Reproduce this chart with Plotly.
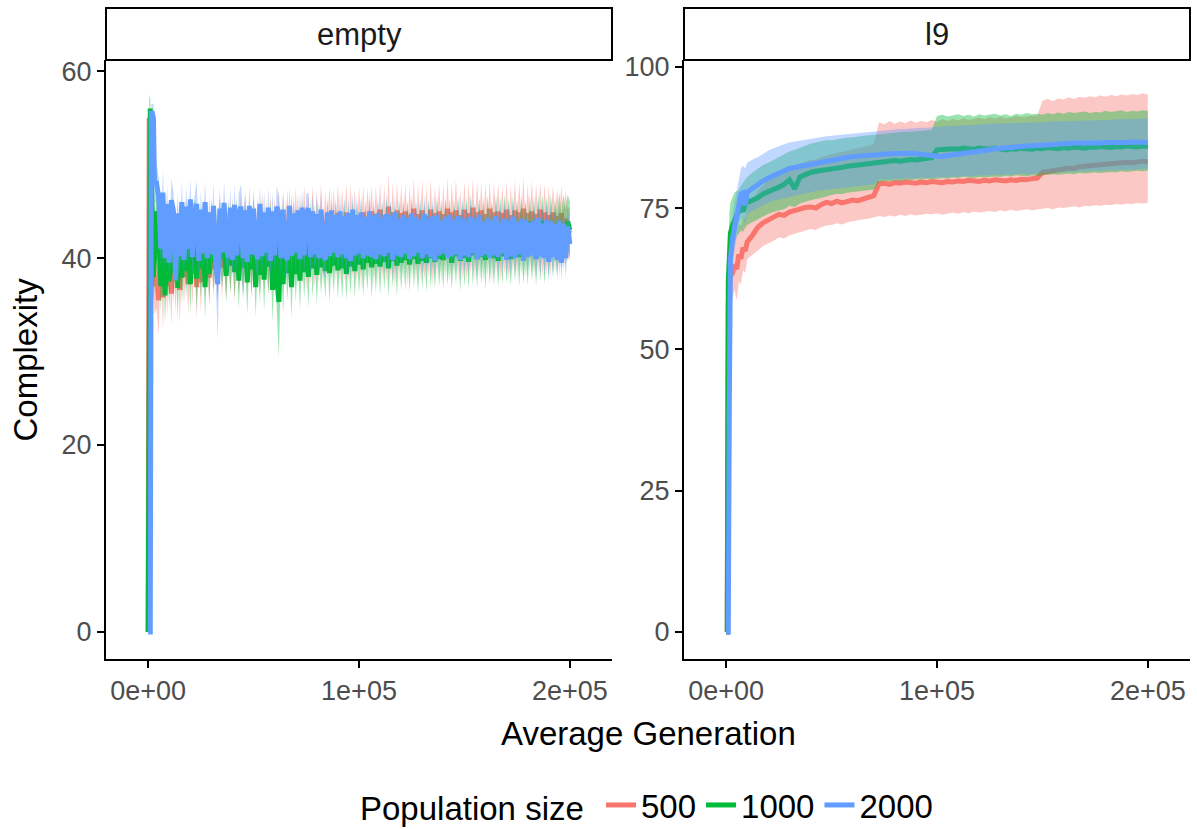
import plotly.graph_objects as go

# ---------------- data ----------------
series_names = ["500", "1000", "2000"]
series_colors = ["#F8766D", "#00BA38", "#619CFF"]
ribbon_colors = ["rgba(248,118,109,0.4)", "rgba(0,186,56,0.4)", "rgba(97,156,255,0.4)"]
panel_titles = ["empty", "l9"]

# panel "empty": generations (start of run, then every 1000)
empty_gen = [0, 500, 1000, 1500, 2000, 2500, 3000] + list(range(4000, 200001, 1000))

red_empty_mean = [0, 55.0, 48.0, 42.0, 38.0, 40.0, 37.0,
    38.0, 35.5, 43.0, 35.8, 42.5, 37.0,
    43.2, 36.2, 42.8, 37.5, 43.0, 36.6, 42.6, 38.0, 43.4, 37.2,
    42.9, 38.3, 43.1, 36.9, 42.7, 37.4, 43.5, 38.6, 42.8, 37.9,
    43.3, 38.8, 42.6, 38.2, 43.6, 39.0, 42.9, 38.5, 43.2, 39.3,
    43.7, 38.7, 43.0, 39.4, 43.5, 38.9, 43.8, 39.5, 42.9, 39.1,
    43.6, 39.6, 43.2, 39.0, 44.0, 39.8, 43.4, 39.3, 43.9, 39.7,
    43.5, 39.9, 44.2, 39.4, 43.7, 40.0, 44.1, 39.6, 43.8, 40.2,
    44.3, 39.8, 43.9, 40.1, 44.4, 39.7, 44.0, 40.3, 44.5, 39.9,
    44.2, 40.4, 44.6, 40.0, 44.1, 40.5, 44.7, 40.2, 44.3, 40.6,
    44.8, 40.1, 44.4, 40.7, 44.9, 40.3, 44.5, 40.8, 44.2, 40.4,
    44.6, 40.0, 44.9, 40.6, 44.3, 40.9, 45.0, 40.2, 44.7, 40.5,
    45.2, 40.8, 44.6, 40.3, 45.5, 40.7, 44.9, 40.1, 45.1, 40.6,
    44.8, 40.9, 45.0, 40.4, 44.6, 40.8, 45.3, 40.2, 44.7, 40.7,
    45.1, 40.5, 44.5, 40.9, 45.2, 40.3, 44.8, 41.0, 45.0, 40.6,
    44.7, 40.8, 45.3, 40.4, 44.9, 41.1, 45.1, 40.6, 44.6, 40.9,
    45.2, 40.7, 44.8, 41.2, 45.4, 40.5, 44.9, 41.0, 45.1, 40.8,
    44.7, 41.1, 45.3, 40.6, 44.9, 41.3, 45.0, 40.9, 44.8, 41.2,
    45.2, 40.7, 44.6, 41.4, 45.1, 40.9, 44.9, 41.2, 45.3, 40.8,
    44.8, 41.3, 45.0, 41.0, 44.7, 41.5, 45.2, 41.1, 44.9, 41.4,
    44.6, 41.2, 44.9, 41.6, 44.5, 41.3, 44.8, 41.8, 44.2, 42.4,
    43.0]
red_empty_sd = [0, 1.0, 2.0, 3.0, 3.0, 3.0, 3.0,
    3.4, 3.8, 3.2, 3.6, 3.0, 3.3,
    3.1, 3.5, 2.9, 3.3, 3.0, 3.6, 2.8, 3.2, 3.1, 3.4,
    2.9, 3.2, 3.0, 3.5, 2.8, 3.3, 3.1, 2.9, 3.4, 3.0,
    3.2, 2.9, 3.3, 3.0, 2.8, 3.4, 3.1, 3.0, 3.2, 2.9,
    3.0, 3.3, 2.9, 3.1, 3.4, 2.8, 3.2, 3.0, 3.3, 2.9,
    3.1, 3.0, 3.4, 2.9, 3.2, 3.1, 2.8, 3.3, 3.0, 3.2,
    2.9, 3.2, 3.0, 3.4, 3.1, 2.8, 3.3, 3.0, 3.2, 2.9,
    3.3, 3.0, 3.1, 2.9, 3.4, 3.2, 2.8, 3.1, 3.3, 3.0,
    3.0, 3.2, 3.4, 2.9, 3.1, 3.3, 3.0, 2.8, 3.2, 3.1,
    3.2, 2.9, 3.0, 3.3, 3.1, 2.8, 3.4, 3.0, 3.2, 2.9,
    3.1, 3.3, 2.9, 3.0, 3.2, 3.4, 2.8, 3.1, 3.0, 3.3,
    2.9, 3.1, 3.2, 3.0, 3.5, 2.9, 3.1, 3.3, 3.0, 3.2,
    3.0, 3.2, 2.9, 3.4, 3.1, 3.0, 3.3, 2.8, 3.2, 3.1,
    3.3, 2.9, 3.1, 3.0, 3.2, 3.4, 2.9, 3.1, 3.0, 3.2,
    3.1, 3.0, 3.3, 2.9, 3.2, 3.1, 3.4, 3.0, 2.8, 3.2,
    3.0, 3.3, 3.1, 2.9, 3.2, 3.0, 3.4, 3.1, 2.9, 3.3,
    3.2, 3.0, 2.9, 3.3, 3.1, 3.2, 3.0, 3.4, 2.9, 3.1,
    3.0, 3.2, 3.1, 2.9, 3.3, 3.0, 3.2, 3.1, 3.4, 2.9,
    3.1, 2.9, 3.3, 3.0, 3.2, 3.1, 2.9, 3.3, 3.0, 3.2,
    3.0, 3.1, 2.9, 3.2, 3.0, 3.3, 2.9, 3.1, 3.0, 2.8,
    2.5]

green_empty_mean = [0, 56.0, 56.0, 50.0, 42.0, 38.0, 40.0,
    45.0, 43.5, 37.0, 44.0, 36.0, 42.5,
    37.5, 43.2, 38.4, 42.6, 36.8, 43.5, 37.9, 42.8, 38.6, 43.0,
    37.2, 42.7, 43.3, 37.8, 42.5, 38.9, 43.1, 36.9, 42.9, 38.3,
    43.4, 39.6, 42.6, 38.7, 43.2, 39.9, 42.4, 38.1, 43.0, 39.2,
    42.8, 38.5, 43.5, 37.6, 42.7, 39.0, 43.1, 37.4, 42.9, 38.8,
    43.3, 36.9, 42.5, 38.2, 43.0, 37.7, 42.8, 39.1, 43.2, 36.6,
    42.6, 38.0, 35.3, 42.9, 37.2, 43.1, 38.4, 42.7, 36.9, 43.0,
    38.3, 42.8, 37.6, 43.2, 38.5, 42.6, 38.0, 43.4, 38.9, 42.7,
    38.2, 43.0, 39.0, 42.5, 38.6, 43.3, 38.4, 42.9, 39.2, 43.1,
    38.7, 42.8, 38.9, 43.4, 38.3, 42.6, 39.1, 43.2, 38.6, 42.9,
    39.3, 43.1, 38.8, 42.7, 39.5, 43.4, 39.0, 42.8, 39.4, 43.2,
    39.1, 42.9, 39.6, 43.3, 38.9, 43.0, 39.7, 42.7, 39.2, 43.5,
    39.5, 42.8, 39.8, 43.2, 39.3, 43.6, 39.9, 42.9, 39.4, 43.3,
    39.7, 43.0, 39.5, 43.4, 40.0, 42.8, 39.6, 43.5, 39.9, 43.1,
    39.8, 43.6, 40.1, 43.0, 39.5, 43.3, 40.2, 43.7, 39.7, 43.2,
    40.0, 43.4, 39.6, 43.8, 40.3, 43.1, 39.9, 43.5, 40.1, 43.3,
    39.8, 43.7, 40.4, 43.2, 40.0, 43.6, 39.7, 43.4, 40.2, 43.9,
    40.3, 43.3, 39.9, 43.7, 40.5, 43.5, 40.1, 43.8, 40.4, 43.2,
    40.2, 43.9, 40.6, 43.4, 40.0, 43.7, 40.5, 44.0, 40.3, 43.6,
    40.7, 43.8, 41.0, 43.5, 41.3, 44.0, 41.8, 43.7, 42.2, 43.9,
    43.0]
green_empty_sd = [0, 1.5, 1.0, 2.0, 3.0, 3.0, 3.0,
    3.0, 3.3, 2.8, 3.2, 2.9, 3.1,
    3.0, 2.8, 3.2, 2.9, 3.3, 3.0, 2.8, 3.1, 2.9, 3.2,
    3.1, 2.9, 3.0, 3.3, 2.8, 3.1, 3.0, 3.4, 2.9, 3.0,
    2.8, 3.1, 3.0, 2.9, 3.2, 3.0, 3.3, 2.9, 3.1, 3.0,
    3.2, 2.9, 3.0, 3.1, 2.8, 3.3, 3.0, 3.5, 2.9, 3.1,
    3.0, 3.2, 2.9, 3.1, 3.0, 3.3, 2.8, 3.0, 3.1, 3.4,
    2.9, 3.1, 6.0, 3.0, 3.2, 2.9, 3.0, 3.1, 3.3, 2.8,
    3.0, 2.9, 3.2, 3.1, 2.8, 3.0, 3.3, 2.9, 3.1, 3.0,
    3.2, 3.0, 2.9, 3.1, 3.0, 2.8, 3.2, 3.1, 2.9, 3.0,
    3.1, 2.9, 3.3, 3.0, 2.8, 3.1, 3.0, 3.2, 2.9, 3.1,
    3.0, 3.2, 2.9, 3.1, 3.0, 2.8, 3.3, 3.0, 3.1, 2.9,
    3.1, 3.0, 2.9, 3.2, 3.0, 3.1, 2.8, 3.0, 3.3, 2.9,
    3.0, 3.1, 3.2, 2.9, 3.0, 2.8, 3.1, 3.0, 3.2, 3.1,
    2.9, 3.0, 3.1, 2.8, 3.2, 3.0, 2.9, 3.1, 3.0, 3.2,
    3.1, 2.9, 3.0, 3.2, 2.8, 3.1, 3.0, 2.9, 3.3, 3.0,
    3.0, 3.1, 2.9, 3.0, 3.2, 2.8, 3.1, 3.0, 2.9, 3.2,
    3.1, 3.0, 3.2, 2.9, 3.0, 3.1, 2.8, 3.2, 3.0, 2.9,
    3.0, 3.2, 2.9, 3.1, 3.0, 2.8, 3.1, 3.0, 3.2, 2.9,
    3.1, 2.9, 3.0, 3.2, 2.9, 3.1, 3.0, 2.8, 3.1, 3.0,
    2.9, 3.1, 3.0, 2.8, 3.2, 3.0, 2.9, 3.1, 3.0, 2.9,
    3.0]

blue_empty_mean = [0, 0, 0, 55.5, 55.5, 55.0, 48.0,
    48.0, 46.5, 41.0, 47.0, 40.0, 45.8,
    39.5, 46.2, 45.0, 37.6, 44.8, 40.2, 46.0, 39.8, 45.5, 41.0,
    46.3, 40.1, 44.6, 45.8, 39.7, 45.2, 40.5, 46.0, 40.0, 44.9,
    40.4, 45.6, 39.9, 37.2, 45.3, 40.6, 45.9, 41.2, 40.1, 45.4,
    39.8, 45.7, 40.3, 44.8, 45.5, 40.0, 45.1, 39.6, 45.6, 40.4,
    45.3, 40.8, 39.9, 45.8, 40.2, 44.9, 40.6, 45.4, 39.7, 45.0,
    40.3, 45.5, 44.7, 40.0, 45.2, 40.5, 39.8, 45.6, 40.2, 44.8,
    40.6, 45.1, 39.9, 45.4, 40.3, 44.9, 45.3, 40.1, 45.0, 40.4,
    44.7, 40.0, 45.2, 40.5, 39.8, 44.9, 40.2, 45.1, 40.6, 44.6,
    40.1, 45.0, 40.4, 44.5, 40.0, 44.8, 39.7, 45.2, 40.3, 44.6,
    40.5, 44.9, 40.0, 44.4, 40.3, 45.0, 40.1, 44.6, 39.9, 44.8,
    40.4, 44.3, 40.2, 44.7, 40.6, 44.5, 39.8, 44.9, 40.3, 44.2,
    40.1, 44.6, 40.5, 44.3, 39.9, 44.8, 40.2, 44.4, 40.6, 44.1,
    40.0, 44.7, 40.4, 44.2, 40.1, 44.5, 39.7, 44.6, 40.3, 44.0,
    40.5, 44.4, 40.0, 44.6, 40.2, 44.1, 40.4, 44.5, 39.8, 44.3,
    40.3, 44.0, 40.1, 44.4, 40.5, 44.2, 39.9, 44.6, 40.2, 43.9,
    40.4, 44.3, 40.0, 44.1, 40.3, 44.5, 40.1, 43.8, 40.5, 44.2,
    39.8, 44.0, 40.2, 44.4, 40.0, 43.9, 40.4, 44.2, 39.7, 44.1,
    40.1, 43.8, 40.3, 44.0, 39.9, 44.3, 40.2, 43.7, 40.0, 44.1,
    39.6, 43.9, 40.1, 43.6, 39.8, 44.0, 39.5, 43.7, 40.0, 43.4,
    41.5]
blue_empty_sd = [0, 0, 0, 1.0, 1.0, 1.5, 2.0,
    2.0, 2.2, 1.8, 2.4, 1.7, 2.1,
    1.9, 2.3, 2.0, 1.6, 2.2, 1.8, 2.4, 1.9, 2.1, 1.7,
    2.2, 1.8, 2.0, 2.5, 1.9, 2.1, 1.7, 2.3, 2.0, 1.8,
    2.1, 2.4, 1.9, 6.0, 2.2, 1.8, 2.3, 2.0, 1.7, 2.1,
    2.0, 2.2, 1.8, 2.1, 2.4, 4.5, 1.9, 2.0, 2.2, 1.8,
    2.1, 1.9, 2.3, 1.8, 2.0, 2.2, 1.7, 2.1, 1.9, 2.0,
    1.8, 2.2, 2.0, 1.9, 2.1, 1.7, 2.3, 2.0, 1.8, 2.1,
    2.0, 1.8, 2.2, 1.9, 2.1, 2.0, 1.7, 2.2, 1.9, 2.0,
    2.1, 1.9, 1.8, 2.2, 2.0, 1.7, 2.1, 1.9, 2.2, 1.8,
    1.9, 2.1, 2.0, 1.8, 2.2, 1.9, 2.0, 1.7, 2.1, 2.0,
    2.0, 1.8, 2.1, 1.9, 1.7, 2.2, 2.0, 1.8, 2.1, 1.9,
    1.8, 2.0, 1.9, 2.2, 2.0, 1.7, 2.1, 1.9, 2.0, 1.8,
    2.1, 1.9, 2.0, 1.8, 2.2, 2.0, 1.7, 2.1, 1.9, 2.0,
    1.9, 2.1, 1.8, 2.0, 1.9, 2.2, 2.0, 1.8, 2.1, 1.7,
    2.0, 1.8, 2.1, 1.9, 2.0, 1.7, 2.2, 1.9, 2.0, 2.1,
    1.8, 2.0, 1.9, 2.1, 1.7, 2.0, 2.2, 1.8, 1.9, 2.0,
    2.1, 1.9, 2.0, 1.8, 2.2, 1.9, 2.0, 2.1, 1.7, 2.0,
    1.9, 2.0, 2.1, 1.8, 2.0, 2.2, 1.9, 1.7, 2.0, 2.1,
    2.0, 1.8, 1.9, 2.1, 2.0, 1.9, 2.2, 1.8, 2.0, 1.9,
    2.1, 1.9, 2.0, 1.8, 2.1, 2.0, 1.9, 2.2, 2.0, 2.1,
    2.0]

# panel "l9": generations
l9_gen = [0, 500, 1000, 1500, 2000, 3000, 4000, 5000, 6000, 7000, 8000, 9000] + list(range(10000, 200001, 2500))

red_l9_mean = [0, 0, 58.0, 62.0, 63.0, 63.5, 65.0, 64.2, 66.8, 66.0, 68.0, 67.4,
    69.0, 70.2, 71.6, 72.4, 73.0, 73.4, 73.9, 73.7,
    74.3, 74.6, 74.8, 75.1, 75.2, 75.0, 75.6, 76.0,
    75.8, 76.2, 75.9, 76.1, 76.4, 76.3, 76.6, 76.9, 77.2,
    79.3, 79.4, 79.2, 79.5, 79.4, 79.6, 79.5, 79.4, 79.6, 79.5, 79.7,
    79.6, 79.5, 79.7, 79.6, 79.8, 79.7, 79.9, 79.8, 79.7, 79.9,
    79.8, 80.0, 79.9, 79.8, 80.0, 79.9, 80.1, 80.0, 80.2, 80.3,
    81.3, 81.4, 81.6, 81.8, 81.9, 82.1, 82.0, 82.3, 82.4, 82.5,
    82.6, 82.5, 82.7, 82.9, 82.8, 83.0, 83.1, 83.0, 83.2, 83.3, 83.2]
red_l9_lo = [0, 0, 50.0, 56.0, 58.0, 59.0, 60.5, 58.7, 62.0, 61.5, 64.0, 63.5,
    66.0, 66.8, 67.5, 68.3, 68.8, 69.2, 69.8, 69.6,
    70.2, 70.5, 70.8, 71.0, 71.3, 71.1, 71.6, 71.9,
    72.0, 72.3, 72.1, 72.5, 72.6, 72.8, 73.0, 73.1, 73.3,
    73.6, 73.4, 73.7, 73.5, 73.8, 73.6, 73.9, 73.7, 73.8, 74.0, 73.9,
    74.1, 73.8, 74.0, 74.2, 74.0, 74.3, 74.1, 74.4, 74.2, 74.3,
    74.5, 74.3, 74.6, 74.4, 74.7, 74.5, 74.6, 74.8, 74.6, 74.7,
    74.9, 75.0, 74.8, 75.1, 75.0, 75.2, 75.3, 75.1, 75.4, 75.3,
    75.5, 75.4, 75.6, 75.5, 75.7, 75.6, 75.8, 75.7, 75.9, 75.8, 75.9]
red_l9_hi = [0, 0, 64.0, 68.0, 68.5, 69.0, 70.0, 70.2, 72.0, 72.0, 73.5, 73.0,
    75.0, 76.5, 78.0, 79.0, 80.0, 80.6, 81.2, 81.5,
    82.0, 82.5, 82.8, 83.2, 83.5, 83.6, 84.0, 84.3,
    84.5, 84.8, 84.9, 85.2, 85.4, 85.6, 85.8, 86.0, 86.3,
    90.2, 89.8, 90.4, 89.9, 90.3, 90.0, 90.5, 90.1, 90.4, 90.2, 90.6,
    90.3, 90.7, 90.4, 90.8, 90.5, 90.9, 90.6, 90.8, 91.0, 90.7,
    91.1, 90.8, 91.2, 90.9, 91.0, 91.3, 91.1, 91.2, 91.4, 91.3,
    94.0, 94.3, 93.9, 94.4, 94.2, 94.6, 94.3, 94.7, 94.5, 94.8,
    94.6, 94.9, 94.7, 95.0, 94.8, 95.1, 94.9, 95.2, 95.0, 95.3, 95.1]

green_l9_mean = [0, 0, 62.0, 69.0, 70.5, 72.0, 73.0, 74.0, 74.5, 75.0, 74.4, 75.5,
    76.0, 76.4, 76.8, 77.5, 77.8, 78.3, 78.7, 79.2,
    80.0, 78.4, 80.5, 81.0, 81.3, 81.5, 81.6, 81.8,
    82.0, 82.1, 82.2, 82.4, 82.5, 82.6, 82.7, 82.8, 83.0,
    83.2, 83.1, 83.3, 83.4, 83.3, 83.5, 83.6, 83.5, 83.7, 83.8, 83.9,
    85.3, 85.4, 85.3, 85.5, 85.4, 85.6, 85.5, 85.4, 85.6, 85.5,
    85.4, 85.6, 85.5, 85.3, 85.5, 85.4, 85.6, 85.5, 85.4, 85.6,
    85.5, 85.7, 85.6, 85.5, 85.7, 85.6, 85.8, 85.7, 85.6, 85.8,
    85.7, 85.9, 85.8, 85.7, 85.9, 85.8, 86.0, 85.9, 85.8, 86.0, 85.9]
green_l9_lo = [0, 0, 55.0, 62.0, 66.0, 68.0, 69.0, 70.0, 70.5, 71.0, 70.8, 71.5,
    72.0, 72.5, 73.0, 73.5, 74.0, 74.3, 74.6, 74.8,
    75.4, 75.2, 75.8, 76.1, 76.4, 76.6, 76.8, 77.0,
    77.3, 77.5, 77.5, 77.7, 77.8, 78.0, 78.1, 78.2, 78.3,
    79.6, 79.8, 79.7, 79.9, 79.8, 80.0, 79.9, 80.1, 80.0, 80.2, 80.1,
    80.2, 80.3, 80.2, 80.4, 80.3, 80.5, 80.4, 80.3, 80.5, 80.4,
    80.5, 80.6, 80.5, 80.7, 80.6, 80.8, 80.7, 80.6, 80.8, 80.7,
    80.8, 80.9, 81.0, 80.9, 81.0, 81.1, 81.0, 81.2, 81.1, 81.2,
    81.3, 81.2, 81.3, 81.4, 81.3, 81.5, 81.4, 81.5, 81.6, 81.5, 81.6]
green_l9_hi = [0, 0, 66.0, 74.0, 76.0, 77.0, 77.8, 78.0, 78.2, 79.0, 79.5, 80.0,
    80.5, 81.3, 82.0, 82.6, 83.0, 83.5, 84.0, 84.5,
    85.0, 85.3, 85.7, 86.0, 86.4, 86.6, 86.8, 87.0,
    87.0, 87.2, 87.3, 87.5, 87.5, 87.7, 87.8, 87.9, 88.0,
    88.1, 88.2, 88.3, 88.3, 88.4, 88.5, 88.5, 88.6, 88.7, 88.8, 88.8,
    91.3, 91.5, 91.2, 91.4, 91.6, 91.3, 91.5, 91.2, 91.6, 91.4,
    91.5, 91.7, 91.4, 91.6, 91.3, 91.7, 91.5, 91.8, 91.6, 91.7,
    91.5, 91.8, 91.6, 91.9, 91.7, 92.0, 91.8, 91.9, 92.1, 91.8,
    92.0, 91.9, 92.2, 92.0, 92.1, 92.3, 92.0, 92.2, 92.1, 92.3, 92.2]

blue_l9_mean = [0, 0, 0, 40.0, 66.0, 69.5, 71.5, 74.0, 76.5, 77.5, 77.7, 75.5,
    77.8, 78.5, 79.2, 79.8, 80.3, 80.8, 81.2, 81.6,
    82.0, 82.2, 82.4, 82.6, 82.8, 83.0, 83.2, 83.4,
    83.6, 83.7, 83.9, 84.0, 84.1, 84.2, 84.2, 84.3, 84.4,
    84.4, 84.5, 84.6, 84.6, 84.7, 84.6, 84.7, 84.6, 84.5, 84.3, 84.1,
    84.0, 84.1, 84.3, 84.4, 84.5, 84.6, 84.8, 84.9, 85.0, 85.2,
    85.3, 85.5, 85.6, 85.7, 85.8, 85.9, 85.9, 86.0, 86.1, 86.1,
    86.1, 86.2, 86.3, 86.3, 86.4, 86.4, 86.5, 86.5, 86.4, 86.5,
    86.5, 86.6, 86.5, 86.6, 86.6, 86.5, 86.6, 86.7, 86.6, 86.5, 86.6]
blue_l9_lo = [0, 0, 0, 35.0, 60.0, 65.0, 67.0, 70.0, 72.0, 73.0, 73.5, 72.0,
    74.0, 74.6, 75.0, 75.5, 76.0, 76.3, 76.6, 76.8,
    77.0, 77.2, 77.4, 77.6, 77.8, 78.0, 78.1, 78.3,
    78.3, 78.5, 78.6, 78.7, 78.8, 78.9, 79.0, 79.1, 79.2,
    80.0, 80.1, 80.0, 80.2, 80.1, 80.3, 80.2, 80.3, 80.4, 80.3, 80.4,
    80.4, 80.5, 80.4, 80.6, 80.5, 80.7, 80.6, 80.7, 80.8, 80.7,
    80.8, 80.9, 80.8, 81.0, 80.9, 81.0, 81.1, 81.0, 81.1, 81.2,
    81.2, 81.3, 81.3, 81.3, 81.4, 81.4, 81.4, 81.5, 81.5, 81.5,
    81.6, 81.6, 81.6, 81.7, 81.7, 81.7, 81.8, 81.8, 81.8, 81.9, 81.9]
blue_l9_hi = [0, 0, 0, 45.0, 70.0, 74.0, 76.0, 78.0, 80.0, 82.0, 82.5, 82.0,
    83.0, 83.6, 84.0, 84.6, 85.2, 85.6, 86.0, 86.3,
    86.6, 86.8, 87.0, 87.1, 87.2, 87.4, 87.6, 87.7,
    87.8, 87.9, 88.0, 88.1, 88.2, 88.3, 88.4, 88.5, 88.6,
    88.7, 88.8, 88.8, 88.9, 89.0, 89.0, 89.1, 89.1, 89.2, 89.2, 89.3,
    89.4, 89.4, 89.5, 89.5, 89.6, 89.6, 89.7, 89.7, 89.8, 89.8,
    89.9, 89.9, 90.0, 90.0, 90.0, 90.1, 90.1, 90.1, 90.2, 90.2,
    90.2, 90.3, 90.3, 90.3, 90.4, 90.4, 90.4, 90.5, 90.5, 90.5,
    90.5, 90.6, 90.6, 90.6, 90.7, 90.7, 90.7, 90.8, 90.8, 90.8, 90.9]

x_tick_vals = [0, 100000, 200000]
x_tick_text = ["0e+00", "1e+05", "2e+05"]
empty_y_ticks = [0, 20, 40, 60]
l9_y_ticks = [0, 25, 50, 75, 100]

# ---------------- figure ----------------
W, H = 1197, 829
FONT = "Liberation Sans, Arial, Helvetica, sans-serif"


def fx(p):
    return p / W


def fy(p):
    return 1 - p / H


def trim(*lists):
    n = min(len(v) for v in lists)
    return [list(v[:n]) for v in lists]


fig = go.Figure()

empty_means = [red_empty_mean, green_empty_mean, blue_empty_mean]
empty_sds = [red_empty_sd, green_empty_sd, blue_empty_sd]
l9_means = [red_l9_mean, green_l9_mean, blue_l9_mean]
l9_los = [red_l9_lo, green_l9_lo, blue_l9_lo]
l9_his = [red_l9_hi, green_l9_hi, blue_l9_hi]

LW = 5

# panel 1: empty (ribbon then line for each group, like geom_smooth)
for k in range(3):
    g, m, s = trim(empty_gen, empty_means[k], empty_sds[k])
    lo = [a - b for a, b in zip(m, s)]
    hi = [a + b for a, b in zip(m, s)]
    fig.add_trace(go.Scatter(x=g + g[::-1], y=hi + lo[::-1],
                             fill="toself", fillcolor=ribbon_colors[k], line=dict(width=0),
                             mode="lines", hoverinfo="skip", showlegend=False,
                             xaxis="x", yaxis="y"))
    fig.add_trace(go.Scatter(x=g, y=m, mode="lines",
                             line=dict(color=series_colors[k], width=LW),
                             name=series_names[k], legendgroup=series_names[k],
                             showlegend=True, xaxis="x", yaxis="y"))

# panel 2: l9
for k in range(3):
    g, m, lo, hi = trim(l9_gen, l9_means[k], l9_los[k], l9_his[k])
    fig.add_trace(go.Scatter(x=g + g[::-1], y=hi + lo[::-1],
                             fill="toself", fillcolor=ribbon_colors[k], line=dict(width=0),
                             mode="lines", hoverinfo="skip", showlegend=False,
                             xaxis="x2", yaxis="y2"))
    fig.add_trace(go.Scatter(x=g, y=m, mode="lines",
                             line=dict(color=series_colors[k], width=LW),
                             name=series_names[k], legendgroup=series_names[k],
                             showlegend=False, xaxis="x2", yaxis="y2"))

tickfont = dict(family=FONT, size=27, color="#4D4D4D")
axis_common = dict(showgrid=False, zeroline=False, showline=True, linecolor="black",
                   linewidth=2, ticks="outside", ticklen=7, tickwidth=2, tickcolor="black",
                   tickfont=tickfont, automargin=False)

L1, R1, L2, R2 = 106, 612, 684, 1190
TOP, BOT = 60, 659

fig.update_layout(
    width=W, height=H,
    margin=dict(l=0, r=0, t=0, b=0, pad=0, autoexpand=False),
    paper_bgcolor="white", plot_bgcolor="white",
    font=dict(family=FONT, color="black"),
    xaxis=dict(domain=[fx(L1), fx(R1)], range=[-20000, 220000],
               tickvals=x_tick_vals, ticktext=x_tick_text, anchor="y", **axis_common),
    yaxis=dict(domain=[fy(BOT), fy(TOP)], range=[-2.9, 61.2],
               tickvals=empty_y_ticks, anchor="x", **axis_common),
    xaxis2=dict(domain=[fx(L2), fx(R2)], range=[-20000, 220000],
                tickvals=x_tick_vals, ticktext=x_tick_text, anchor="y2", **axis_common),
    yaxis2=dict(domain=[fy(BOT), fy(TOP)], range=[-4.8, 101.2],
                tickvals=l9_y_ticks, anchor="x2", **axis_common),
    legend=dict(orientation="h", x=fx(648), xanchor="center", y=fy(805), yanchor="middle",
                font=dict(family=FONT, size=33, color="black"),
                title=dict(text="Population size ", side="left",
                           font=dict(family=FONT, size=33, color="black")),
                itemwidth=30, tracegroupgap=0, bgcolor="rgba(0,0,0,0)"),
    showlegend=True,
)

# strips
for (l, r), title in zip([(L1, R1), (L2, R2)], panel_titles):
    fig.add_shape(type="rect", xref="paper", yref="paper",
                  x0=fx(l), x1=fx(r), y0=fy(TOP), y1=fy(8),
                  line=dict(color="black", width=2), fillcolor="white")
    fig.add_annotation(x=fx((l + r) / 2), y=fy(35), xref="paper", yref="paper",
                       text=title, showarrow=False, xanchor="center", yanchor="middle",
                       font=dict(family=FONT, size=31, color="#1A1A1A"))

# axis titles
fig.add_annotation(x=fx(648), y=fy(733), xref="paper", yref="paper",
                   text="Average Generation", showarrow=False,
                   xanchor="center", yanchor="middle",
                   font=dict(family=FONT, size=33, color="black"))
fig.add_annotation(x=fx(25), y=fy((TOP + BOT) / 2), xref="paper", yref="paper",
                   text="Complexity", showarrow=False, textangle=-90,
                   xanchor="center", yanchor="middle",
                   font=dict(family=FONT, size=33, color="black"))

fig.write_html("out.html", config={"displayModeBar": False},
               post_script="document.body.style.margin='0px';document.body.style.overflow='hidden';")
